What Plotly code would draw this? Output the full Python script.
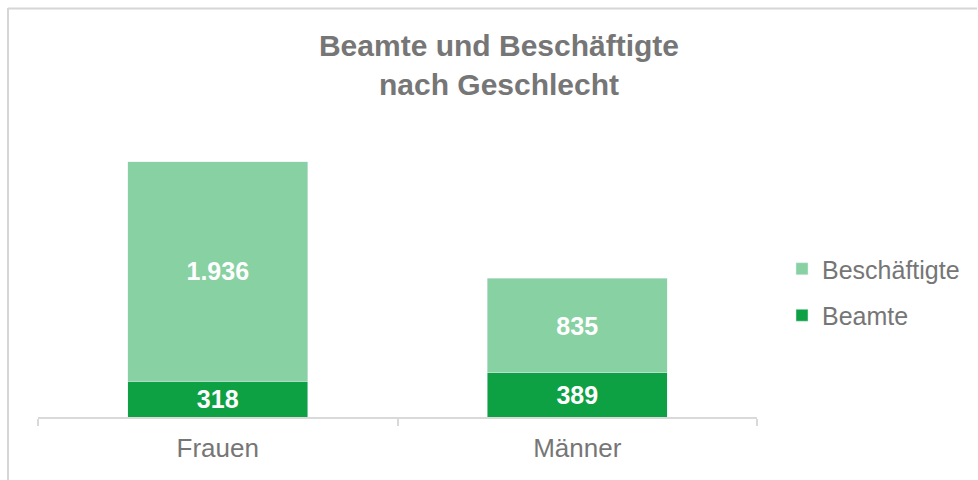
import plotly.graph_objects as go

categories = ["Frauen", "Männer"]
beamte = [318, 389]
beschaeftigte = [1936, 835]
series_names = ["Beamte", "Beschäftigte"]

W, H = 978, 480
ML, MR, MT, MB = 38, 221, 134, 63
PW, PH = W - ML - MR, H - MT - MB

c_dark = "#0ea144"
c_light = "#88d1a2"
txt = "#767676"
FONT = "Liberation Sans, Arial"

fig = go.Figure()
for vals, name, col, grp, rank in [(beamte, series_names[0], c_dark, "a", 2),
                                   (beschaeftigte, series_names[1], c_light, "b", 1)]:
    fig.add_trace(go.Bar(
        x=categories, y=vals, name=name, marker_color=col,
        legendgroup=grp, legendrank=rank, texttemplate="%{y:,}", textposition="inside",
        insidetextanchor="middle", textangle=0,
        textfont=dict(color="white", size=25, family=FONT, weight="bold"),
    ))

def px_x(p):
    return (p - ML) / PW

def px_y(p):
    return (H - MB - p) / PH

border = dict(color="#d6d6d6", width=2)
fig.update_layout(
    width=W, height=H,
    margin=dict(l=ML, r=MR, t=MT, b=MB),
    barmode="stack", bargap=0.5,
    separators=",.",
    uniformtext=dict(minsize=25, mode="show"),
    plot_bgcolor="white", paper_bgcolor="white",
    font=dict(family=FONT, color=txt),
    title=dict(
        text="<b>Beamte und Beschäftigte<br>nach Geschlecht</b>",
        x=499 / W, xref="container", xanchor="center",
        y=1 - 56 / H, yref="container", yanchor="top",
        font=dict(size=30, color=txt, family=FONT),
    ),
    legend=dict(
        x=px_x(782), xanchor="left", y=px_y(246), yanchor="top",
        traceorder="grouped", tracegroupgap=11,
        font=dict(size=25, color=txt), itemwidth=30,
        bgcolor="rgba(0,0,0,0)",
    ),
    xaxis=dict(
        showline=True, linecolor="#d9d9d9", linewidth=1.5,
        ticks="outside", tickson="boundaries", ticklen=7, tickcolor="#d9d9d9", tickwidth=1.5,
        tickfont=dict(size=26, color=txt), showgrid=False, ticklabelstandoff=7,
    ),
    yaxis=dict(range=[0, 2500], visible=False, showgrid=False),
    showlegend=True,
    shapes=[
        dict(type="line", xref="paper", yref="paper",
             x0=px_x(8), x1=px_x(977), y0=px_y(8.5), y1=px_y(8.5), line=border, layer="above"),
        dict(type="line", xref="paper", yref="paper",
             x0=px_x(8), x1=px_x(8), y0=px_y(8), y1=px_y(480), line=border, layer="above"),
    ],
)

fig.write_html(
    "out.html",
    config={"displayModeBar": False},
    post_script="document.body.style.margin='0';document.body.style.padding='0';document.body.style.overflow='hidden';",
)
